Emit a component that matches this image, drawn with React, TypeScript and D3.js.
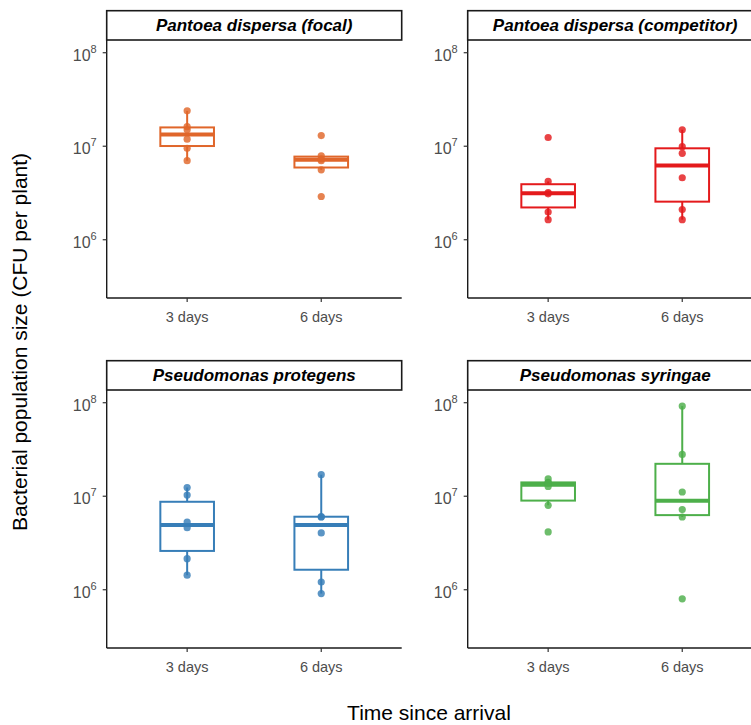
import * as d3 from 'd3';

// Facets and groups
const species = [
  'Pantoea dispersa (focal)',
  'Pantoea dispersa (competitor)',
  'Pseudomonas protegens',
  'Pseudomonas syringae',
];
const timepoints = ['3 days', '6 days'];
const yTicks = [1e6, 1e7, 1e8];

// CFU per plant, one array per facet and time
const focalDay3 = [7.0e6, 9.5e6, 1.19e7, 1.5e7, 1.62e7, 2.39e7];
const focalDay6 = [2.9e6, 5.6e6, 7.0e6, 7.3e6, 7.9e6, 1.3e7];
const competitorDay3 = [1.64e6, 1.98e6, 3.1e6, 3.2e6, 4.2e6, 1.24e7];
const competitorDay6 = [1.64e6, 2.1e6, 4.6e6, 8.4e6, 9.9e6, 1.5e7];
const protegensDay3 = [1.43e6, 2.15e6, 4.6e6, 5.3e6, 1.03e7, 1.24e7];
const protegensDay6 = [9.1e5, 1.21e6, 4.05e6, 6.0e6, 6.05e6, 1.7e7];
const syringaeDay3 = [4.15e6, 8.0e6, 1.27e7, 1.39e7, 1.41e7, 1.53e7];
const syringaeDay6 = [8.0e5, 6.0e6, 7.2e6, 1.11e7, 2.8e7, 9.2e7];

const panelValues = [
  [focalDay3, focalDay6],
  [competitorDay3, competitorDay6],
  [protegensDay3, protegensDay6],
  [syringaeDay3, syringaeDay6],
];

const colors = ['#E0662A', '#E41A1C', '#377EB8', '#4DAF4A'];

// Layout
const W = 751;
const H = 725;
const colLeft = [106.7, 467.7];
const rowTop = [10.7, 360.7];
const panelW = 295;
const stripH = 29.3;
const panelH = 258;
const font = '"Liberation Sans", Arial, sans-serif';

// Box statistics on log scale, ggplot style
function boxStats(values: number[]) {
  const logs = values.map(v => Math.log10(v)).sort(d3.ascending);
  const q1 = d3.quantile(logs, 0.25)!;
  const med = d3.quantile(logs, 0.5)!;
  const q3 = d3.quantile(logs, 0.75)!;
  const iqr = q3 - q1;
  const lo = d3.min(logs.filter(v => v >= q1 - 1.5 * iqr))!;
  const hi = d3.max(logs.filter(v => v <= q3 + 1.5 * iqr))!;
  const p = (v: number) => Math.pow(10, v);
  return { q1: p(q1), med: p(med), q3: p(q3), lo: p(lo), hi: p(hi) };
}

function Panel({ idx }: { idx: number }) {
  const col = idx % 2;
  const row = Math.floor(idx / 2);
  const left = colLeft[col];
  const stripTop = rowTop[row];
  const top = stripTop + stripH;
  const bottom = top + panelH;
  const color = colors[idx];

  const y = d3
    .scaleLog()
    .domain([Math.pow(10, 5.377), Math.pow(10, 8.136)])
    .range([bottom, top]);
  // discrete positions 1..2 with 0.6 expansion each side
  const unit = panelW / 2.2;
  const x = d3
    .scalePoint()
    .domain(timepoints)
    .range([left + 0.6 * unit, left + 1.6 * unit]);
  const boxW = 0.4 * unit;

  return (
    <g>
      {/* strip */}
      <rect
        x={left}
        y={stripTop}
        width={panelW}
        height={stripH}
        fill="#fff"
        stroke="#1a1a1a"
        strokeWidth={1.6}
      />
      <text
        x={left + panelW / 2}
        y={stripTop + stripH / 2 + 6}
        textAnchor="middle"
        fontFamily={font}
        fontSize={17}
        fontWeight="bold"
        fontStyle="italic"
        fill="#000"
      >
        {species[idx]}
      </text>

      {/* boxes */}
      {timepoints.map((t, j) => {
        const s = boxStats(panelValues[idx][j]);
        const cx = x(t)!;
        return (
          <g key={t}>
            <line x1={cx} x2={cx} y1={y(s.q3)} y2={y(s.hi)} stroke={color} strokeWidth={2} />
            <line x1={cx} x2={cx} y1={y(s.q1)} y2={y(s.lo)} stroke={color} strokeWidth={2} />
            <rect
              x={cx - boxW / 2}
              y={y(s.q3)}
              width={boxW}
              height={y(s.q1) - y(s.q3)}
              fill="#fff"
              stroke={color}
              strokeWidth={2}
            />
            <line
              x1={cx - boxW / 2}
              x2={cx + boxW / 2}
              y1={y(s.med)}
              y2={y(s.med)}
              stroke={color}
              strokeWidth={4}
            />
            {panelValues[idx][j].map((v, k) => (
              <circle key={k} cx={cx} cy={y(v)} r={3.6} fill={color} opacity={0.82} />
            ))}
          </g>
        );
      })}

      {/* axes */}
      <line x1={left} x2={left} y1={top} y2={bottom} stroke="#1a1a1a" strokeWidth={1.4} />
      <line x1={left} x2={left + panelW} y1={bottom} y2={bottom} stroke="#1a1a1a" strokeWidth={1.4} />
      {yTicks.map(t => (
        <g key={t}>
          <line x1={left - 4} x2={left} y1={y(t)} y2={y(t)} stroke="#333" strokeWidth={1.2} />
          <text
            x={left - 10}
            y={y(t) + 8}
            textAnchor="end"
            fontFamily={font}
            fontSize={16}
            fill="#4d4d4d"
          >
            10
            <tspan fontSize={11} dy={-8}>
              {Math.round(Math.log10(t))}
            </tspan>
          </text>
        </g>
      ))}
      {timepoints.map(t => (
        <g key={t}>
          <line x1={x(t)} x2={x(t)} y1={bottom} y2={bottom + 4} stroke="#333" strokeWidth={1.2} />
          <text
            x={x(t)}
            y={bottom + 24}
            textAnchor="middle"
            fontFamily={font}
            fontSize={14.5}
            fill="#4d4d4d"
          >
            {t}
          </text>
        </g>
      ))}
    </g>
  );
}

export default function App() {
  return (
    <svg
      width={W}
      height={H}
      style={{ position: 'absolute', left: 0, top: 0, background: '#fff' }}
    >
      <rect width={W} height={H} fill="#fff" />
      {species.map((s, i) => (
        <Panel key={s} idx={i} />
      ))}
      <text
        transform="translate(27,342) rotate(-90)"
        textAnchor="middle"
        fontFamily={font}
        fontSize={21}
        fill="#000"
      >
        Bacterial population size (CFU per plant)
      </text>
      <text x={429} y={720} textAnchor="middle" fontFamily={font} fontSize={21} fill="#000">
        Time since arrival
      </text>
    </svg>
  );
}
